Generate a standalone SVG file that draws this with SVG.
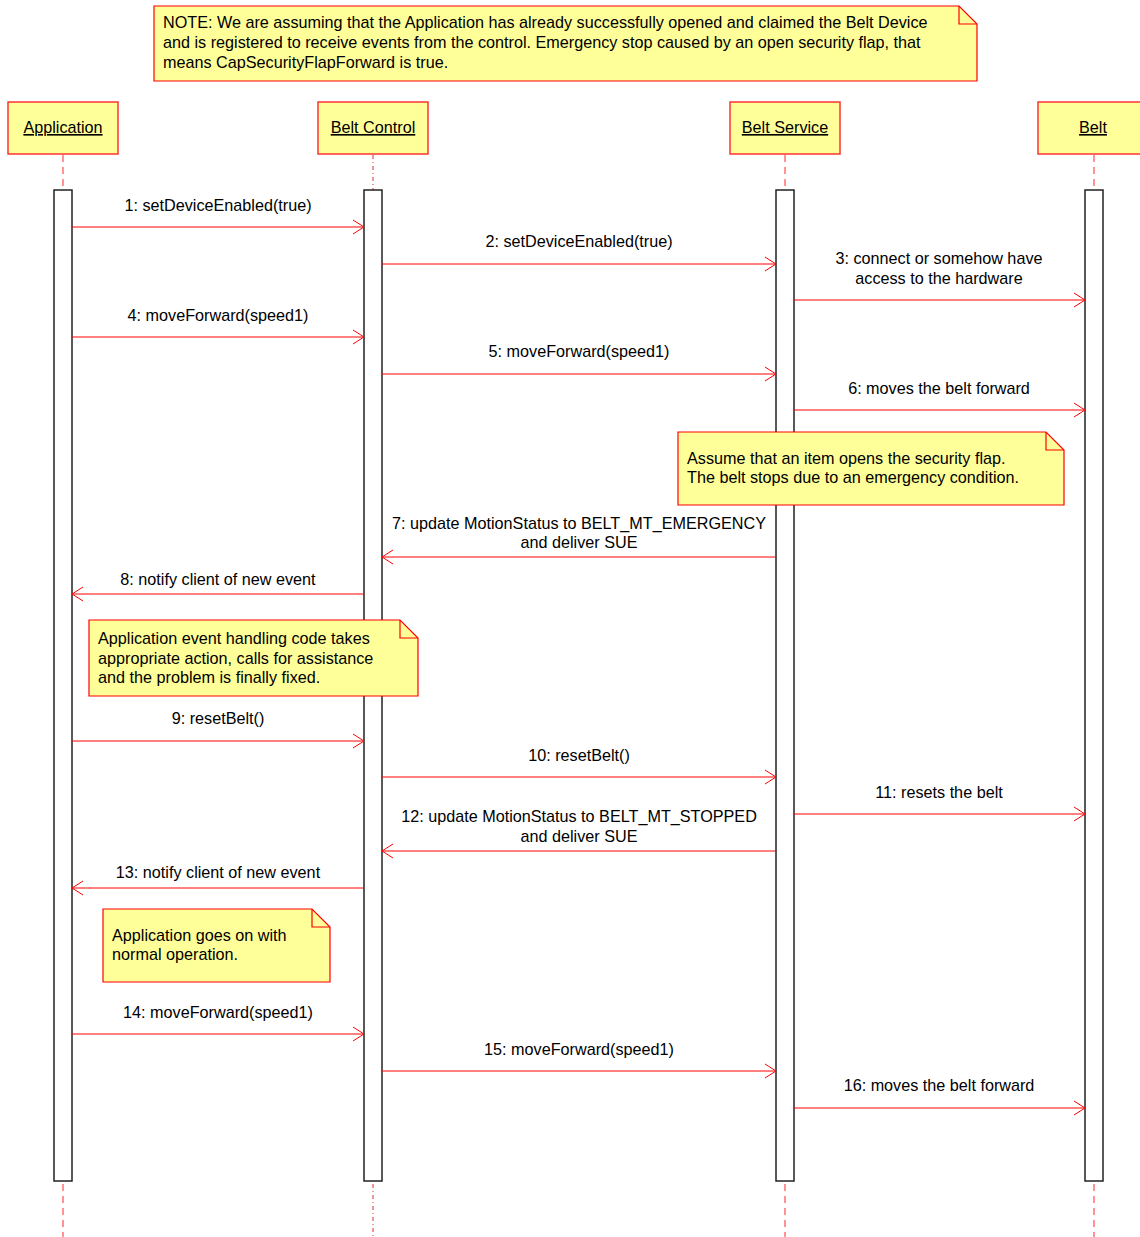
<svg xmlns="http://www.w3.org/2000/svg" width="1140" height="1237" viewBox="0 0 1140 1237">
<defs>
<style>
text{font-family:"Liberation Sans",Arial,sans-serif;font-size:16.2px;fill:#000}
.hdr{fill:#ffff99;stroke:#ff3333;stroke-width:1.5}
.note{fill:#ffff99;stroke:#ff0000;stroke-width:1.2}
.fold{fill:none;stroke:#ff0000;stroke-width:1.2}
.life{stroke:#ff4d4d;stroke-width:1.2;stroke-dasharray:7,5;fill:none}
.lifec{stroke:#e03030;stroke-width:1;stroke-dasharray:4,3,1,3;fill:none}
.act{fill:#fff;stroke:#222;stroke-width:1.5}
.msg{stroke:#ff0000;stroke-width:1;fill:none}
.u{text-decoration:underline}
.m{text-anchor:middle}
</style>
<marker id="ah" viewBox="0 0 12 16" refX="11" refY="8" markerWidth="12" markerHeight="16" markerUnits="userSpaceOnUse" orient="auto">
<path d="M0,1 L11,8 L0,15" fill="none" stroke="#ff0000" stroke-width="1"/>
</marker>
</defs>
<rect width="1140" height="1237" fill="#fff"/>

<g id="note-top">
<path class="note" d="M154,6 H959 L977,24 V81 H154 Z"/>
<path class="fold" d="M959,6 V24 H977"/>
<text x="163" y="28">NOTE: We are assuming that the Application has already successfully opened and claimed the Belt Device</text>
<text x="163" y="48">and is registered to receive events from the control. Emergency stop caused by an open security flap, that</text>
<text x="163" y="68">means CapSecurityFlapForward is true.</text>
</g>

<g id="lifelines">
<line class="life" x1="63" y1="155" x2="63" y2="190"/>
<line class="life" x1="63" y1="1184" x2="63" y2="1237"/>
<line class="lifec" x1="373" y1="155" x2="373" y2="190"/>
<line class="lifec" x1="373" y1="1184" x2="373" y2="1237"/>
<line class="life" x1="785" y1="155" x2="785" y2="190"/>
<line class="life" x1="785" y1="1184" x2="785" y2="1237"/>
<line class="life" x1="1094" y1="155" x2="1094" y2="190"/>
<line class="life" x1="1094" y1="1184" x2="1094" y2="1237"/>
</g>

<g id="application">
<rect class="hdr" x="8" y="102" width="110" height="52"/>
<text class="m u" x="63" y="133">Application</text>
<rect class="act" x="54" y="190" width="18" height="991"/>
</g>
<g id="belt-control">
<rect class="hdr" x="318" y="102" width="110" height="52"/>
<text class="m u" x="373" y="133">Belt Control</text>
<rect class="act" x="364" y="190" width="18" height="991"/>
</g>
<g id="belt-service">
<rect class="hdr" x="730" y="102" width="110" height="52"/>
<text class="m u" x="785" y="133">Belt Service</text>
<rect class="act" x="776" y="190" width="18" height="991"/>
</g>
<g id="belt">
<rect class="hdr" x="1038" y="102" width="110" height="52"/>
<text class="m u" x="1093" y="133">Belt</text>
<rect class="act" x="1085" y="190" width="18" height="991"/>
</g>

<g id="connectors">
<line class="msg" x1="72" y1="227" x2="364" y2="227" marker-end="url(#ah)"/>
<text class="m" x="218" y="211">1: setDeviceEnabled(true)</text>
<line class="msg" x1="382" y1="264" x2="776" y2="264" marker-end="url(#ah)"/>
<text class="m" x="579" y="247">2: setDeviceEnabled(true)</text>
<line class="msg" x1="794" y1="300" x2="1085" y2="300" marker-end="url(#ah)"/>
<text class="m" x="939" y="264">3: connect or somehow have</text>
<text class="m" x="939" y="284">access to the hardware</text>
<line class="msg" x1="72" y1="337" x2="364" y2="337" marker-end="url(#ah)"/>
<text class="m" x="218" y="321">4: moveForward(speed1)</text>
<line class="msg" x1="382" y1="374" x2="776" y2="374" marker-end="url(#ah)"/>
<text class="m" x="579" y="357">5: moveForward(speed1)</text>
<line class="msg" x1="794" y1="410" x2="1085" y2="410" marker-end="url(#ah)"/>
<text class="m" x="939" y="394">6: moves the belt forward</text>
<line class="msg" x1="776" y1="557" x2="382" y2="557" marker-end="url(#ah)"/>
<text class="m" x="579" y="529">7: update MotionStatus to BELT_MT_EMERGENCY</text>
<text class="m" x="579" y="548">and deliver SUE</text>
<line class="msg" x1="364" y1="594" x2="72" y2="594" marker-end="url(#ah)"/>
<text class="m" x="218" y="585">8: notify client of new event</text>
<line class="msg" x1="72" y1="741" x2="364" y2="741" marker-end="url(#ah)"/>
<text class="m" x="218" y="724">9: resetBelt()</text>
<line class="msg" x1="382" y1="777" x2="776" y2="777" marker-end="url(#ah)"/>
<text class="m" x="579" y="761">10: resetBelt()</text>
<line class="msg" x1="794" y1="814" x2="1085" y2="814" marker-end="url(#ah)"/>
<text class="m" x="939" y="798">11: resets the belt</text>
<line class="msg" x1="776" y1="851" x2="382" y2="851" marker-end="url(#ah)"/>
<text class="m" x="579" y="822">12: update MotionStatus to BELT_MT_STOPPED</text>
<text class="m" x="579" y="842">and deliver SUE</text>
<line class="msg" x1="364" y1="888" x2="72" y2="888" marker-end="url(#ah)"/>
<text class="m" x="218" y="878">13: notify client of new event</text>
<line class="msg" x1="72" y1="1034" x2="364" y2="1034" marker-end="url(#ah)"/>
<text class="m" x="218" y="1018">14: moveForward(speed1)</text>
<line class="msg" x1="382" y1="1071" x2="776" y2="1071" marker-end="url(#ah)"/>
<text class="m" x="579" y="1055">15: moveForward(speed1)</text>
<line class="msg" x1="794" y1="1108" x2="1085" y2="1108" marker-end="url(#ah)"/>
<text class="m" x="939" y="1091">16: moves the belt forward</text>
</g>

<g id="note-flap">
<path class="note" d="M678,432 H1046 L1064,450 V505 H678 Z"/>
<path class="fold" d="M1046,432 V450 H1064"/>
<text x="687" y="464">Assume that an item opens the security flap.</text>
<text x="687" y="483">The belt stops due to an emergency condition.</text>
</g>

<g id="note-handling">
<path class="note" d="M89,620 H400 L418,638 V696 H89 Z"/>
<path class="fold" d="M400,620 V638 H418"/>
<text x="98" y="644">Application event handling code takes</text>
<text x="98" y="664">appropriate action, calls for assistance</text>
<text x="98" y="683">and the problem is finally fixed.</text>
</g>

<g id="note-normal">
<path class="note" d="M103,909 H312 L330,927 V982 H103 Z"/>
<path class="fold" d="M312,909 V927 H330"/>
<text x="112" y="941">Application goes on with</text>
<text x="112" y="960">normal operation.</text>
</g>
</svg>
